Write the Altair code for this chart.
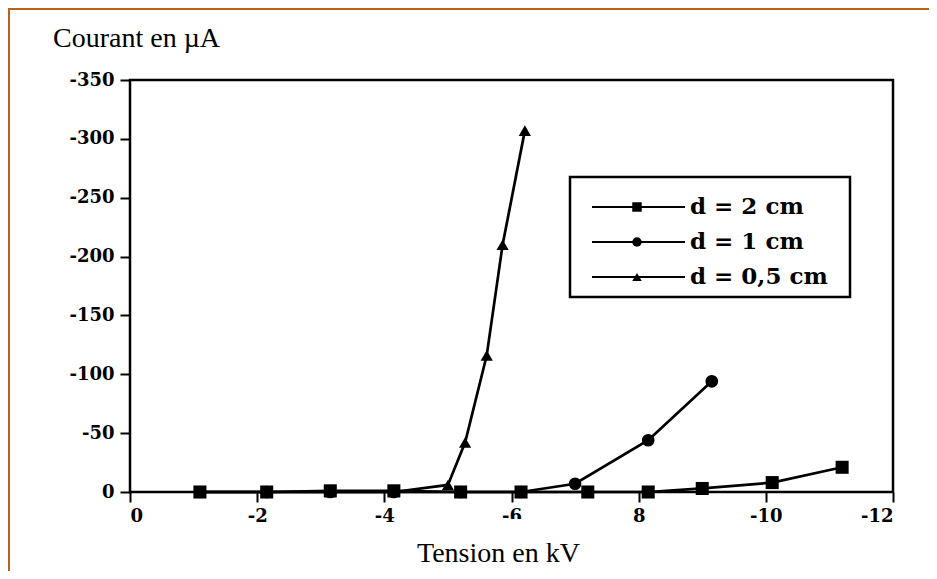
import altair as alt
import pandas as pd

# ---------------- data ----------------
series_names = ["d = 2 cm", "d = 1 cm", "d = 0,5 cm"]
series_shapes = ["square", "circle", "triangle-up"]
series_sizes = [170, 150, 150]

v_2cm = [-1.1, -2.15, -3.15, -4.15, -5.2, -6.15, -7.2, -8.15, -9.0, -10.1, -11.2]
i_2cm = [0, 0, -1, -1, 0, 0, 0, 0, -3, -8, -21]

v_1cm = [-1.1, -2.15, -3.15, -4.15, -5.2, -6.15, -7.0, -8.15, -9.15]
i_1cm = [0, 0, 0, 0, 0, 0, -7, -44, -94]

v_05cm = [-1.1, -2.15, -3.15, -4.15, -5.0, -5.27, -5.61, -5.86, -6.21]
i_05cm = [0, 0, 0, 0, -6, -42, -116, -210, -307]

x_ticks = [0, -2, -4, -6, -8, -10, -12]
y_ticks = [0, -50, -100, -150, -200, -250, -300, -350]
y_title = "Courant en µA"
x_title = "Tension en kV"

# ---------------- build table ----------------
rows = []
for name, vs, cs in [(series_names[0], v_2cm, i_2cm),
                     (series_names[1], v_1cm, i_1cm),
                     (series_names[2], v_05cm, i_05cm)]:
    for k, (v, c) in enumerate(zip(vs, cs)):
        rows.append({"serie": name, "v": v, "i": c, "k": k})
df = pd.DataFrame(rows)

W, H = 763, 412
LABEL_FONT = "DejaVu Serif"
TITLE_FONT = "Liberation Serif"

xscale = alt.Scale(domain=[-12, 0], reverse=True, nice=False, zero=False)
yscale = alt.Scale(domain=[-350, 0], reverse=True, nice=False, zero=False)

xaxis = alt.Axis(values=x_ticks, title=None, grid=False, domain=False,
                 tickSize=10, tickWidth=2, tickColor="black",
                 labelFont=LABEL_FONT, labelFontWeight="bold", labelFontSize=18,
                 labelColor="black", labelPadding=5,
                 labelExpr="datum.value == 0 ? '0' : (datum.value == -8 ? '8' : '-' + abs(datum.value))")
yaxis = alt.Axis(values=y_ticks, title=None, grid=False, domain=False,
                 tickSize=10, tickWidth=2, tickColor="black",
                 labelFont=LABEL_FONT, labelFontWeight="bold", labelFontSize=18,
                 labelColor="black", labelPadding=6,
                 labelExpr="datum.value == 0 ? '0' : '-' + abs(datum.value)")

lines = alt.Chart(df).mark_line(color="black", strokeWidth=2.7).encode(
    x=alt.X("v:Q", scale=xscale, axis=xaxis),
    y=alt.Y("i:Q", scale=yscale, axis=yaxis),
    detail="serie:N",
    order="k:Q",
)

points = alt.Chart(df).mark_point(filled=True, color="black", opacity=1).encode(
    x=alt.X("v:Q", scale=xscale),
    y=alt.Y("i:Q", scale=yscale),
    shape=alt.Shape("serie:N", scale=alt.Scale(domain=series_names, range=series_shapes), legend=None),
    size=alt.Size("serie:N", scale=alt.Scale(domain=series_names, range=series_sizes), legend=None),
)

# white patch of the scanned page under the x title (covers part of the "-6" label)
patch = alt.Chart(pd.DataFrame({"a": [0]})).mark_rect(fill="white", stroke=None).encode(
    x=alt.value(275), x2=alt.value(495), y=alt.value(439), y2=alt.value(500))

# page border (orange, top and left)
border_top = alt.Chart(pd.DataFrame({"a": [0]})).mark_rule(color="#B5651D", strokeWidth=2).encode(
    x=alt.value(-122), x2=alt.value(W + 36), y=alt.value(-71))
border_left = alt.Chart(pd.DataFrame({"a": [0]})).mark_rule(color="#B5651D", strokeWidth=2).encode(
    x=alt.value(-121), y=alt.value(-72), y2=alt.value(H + 79))

ytitle = alt.Chart(pd.DataFrame({"t": [y_title]})).mark_text(
    font=TITLE_FONT, fontSize=28, color="black", align="left", baseline="alphabetic").encode(
    text="t:N", x=alt.value(-77), y=alt.value(-33))
xtitle = alt.Chart(pd.DataFrame({"t": [x_title]})).mark_text(
    font=TITLE_FONT, fontSize=28, color="black", align="left", baseline="alphabetic").encode(
    text="t:N", x=alt.value(287), y=alt.value(482))

# legend box drawn inside the plot
leg_box = alt.Chart(pd.DataFrame({"a": [0]})).mark_rect(fill="white", stroke="black", strokeWidth=2.5).encode(
    x=alt.value(440), x2=alt.value(720), y=alt.value(97), y2=alt.value(217))
leg_layers = [leg_box]
for k, name in enumerate(series_names):
    yy = 127 + 35 * k
    d1 = pd.DataFrame({"t": [name]})
    leg_layers.append(alt.Chart(d1).mark_rule(color="black", strokeWidth=2).encode(
        x=alt.value(462), x2=alt.value(555), y=alt.value(yy)))
    leg_layers.append(alt.Chart(d1).mark_point(filled=True, color="black", opacity=1,
                                               shape=series_shapes[k], size=90).encode(
        x=alt.value(507), y=alt.value(yy)))
    leg_layers.append(alt.Chart(d1).mark_text(font=LABEL_FONT, fontSize=23, fontWeight="bold",
                                              color="black", align="left", baseline="middle").encode(
        text="t:N", x=alt.value(560), y=alt.value(yy)))

chart = alt.layer(lines, points, patch, border_top, border_left, ytitle, xtitle, *leg_layers).properties(
    width=W, height=H,
    padding={"left": 122, "top": 72, "right": 36, "bottom": 79},
    autosize=alt.AutoSizeParams(type="none"),
    background="white",
).configure_view(stroke="black", strokeWidth=2.5)

chart.save("out.html", embed_options={"renderer": "svg", "actions": False})
